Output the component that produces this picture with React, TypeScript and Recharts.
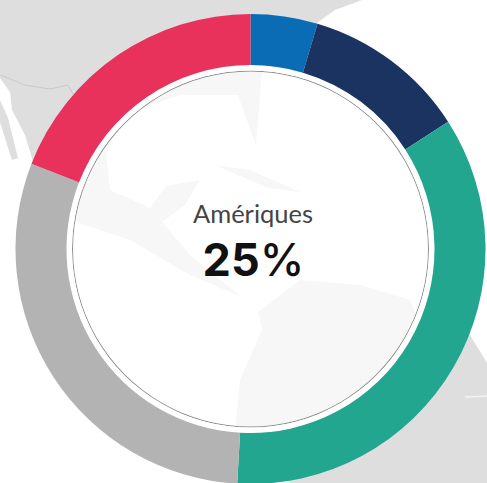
import { PieChart, Pie, Cell } from "recharts";

const regions = ["Bleu", "Marine", "Vert", "Gris", "Rouge"];
const shares = [4.6, 11.3, 35, 30, 19.1];
const colors = ["#0a6cb4", "#1b3361", "#22a68f", "#b3b3b3", "#e8325c"];

const data = regions.map((name, i) => ({ name, value: shares[i] }));
const disc = [{ name: "fond", value: 100 }];

const title = "Amériques";
const percentValue = "25";
const percentSign = "%";

const CX = 250.5;
const CY = 249;
const noMargin = { top: 0, right: 0, bottom: 0, left: 0 };

// fond de carte, purement decoratif
function MapBackground() {
  return (
    <svg
      width={487}
      height={483}
      style={{ position: "absolute", left: 0, top: 0 }}
    >
      <rect width={487} height={483} fill="#ffffff" />
      <g fill="#dedede">
        <path d="M0 0 L362 0 L335 10 L318 22 L290 62 L262 72 L256 145 L244 112 L238 95 L180 95 L130 112 L106 150 L110 190 L150 208 L166 186 L200 180 L185 205 L162 222 L190 255 L240 296 L190 275 L130 240 L75 222 L46 170 L34 165 L25 135 L12 110 L10 92 L0 78 Z" />
        <path d="M0 100 L8 118 L18 158 L12 160 L4 135 L0 122 Z" />
        <path d="M215 165 L250 170 L300 192 L268 188 Z" />
        <path d="M300 280 L360 285 L410 300 L425 335 L470 335 L487 363 L487 483 L290 483 L235 432 L240 380 L262 330 L258 312 Z" />
      </g>
      <path
        d="M0 75 L25 85 L50 89 L68 85 L74 96"
        fill="none"
        stroke="#c9c9c9"
        strokeWidth={1}
      />
      <path
        d="M465 397 L487 396"
        fill="none"
        stroke="#f2f2f2"
        strokeWidth={1.5}
      />
    </svg>
  );
}

export default function App() {
  return (
    <div
      style={{
        position: "absolute",
        left: 0,
        top: 0,
        width: 487,
        height: 483,
        overflow: "hidden",
      }}
    >
      <MapBackground />
      <div style={{ position: "absolute", left: 0, top: 0 }}>
        <PieChart width={487} height={483} margin={noMargin}>
          <Pie
            data={disc}
            dataKey="value"
            cx={CX}
            cy={CY}
            innerRadius={0}
            outerRadius={184}
            fill="#ffffff"
            fillOpacity={0.75}
            stroke="none"
            isAnimationActive={false}
          />
          <Pie
            data={disc}
            dataKey="value"
            cx={CX}
            cy={CY}
            innerRadius={177.5}
            outerRadius={178.5}
            fill="#8c8c8c"
            stroke="none"
            isAnimationActive={false}
          />
          <Pie
            data={disc}
            dataKey="value"
            cx={CX}
            cy={CY}
            innerRadius={178.5}
            outerRadius={184}
            fill="#ffffff"
            stroke="none"
            isAnimationActive={false}
          />
          <Pie
            data={data}
            dataKey="value"
            nameKey="name"
            cx={CX}
            cy={CY}
            innerRadius={184}
            outerRadius={235}
            startAngle={90}
            endAngle={-270}
            paddingAngle={0}
            stroke="none"
            isAnimationActive={false}
          >
            {data.map((d, i) => (
              <Cell key={d.name} fill={colors[i]} />
            ))}
          </Pie>
        </PieChart>
      </div>
      <svg
        width={487}
        height={483}
        style={{ position: "absolute", left: 0, top: 0 }}
      >
        <text
          x={253}
          y={222.5}
          textAnchor="middle"
          fontFamily="Lato"
          fontSize={25.5}
          fill="#444444"
        >
          {title}
        </text>
        <text
          x={253.5}
          y={276}
          textAnchor="middle"
          fontFamily="Inter"
          fontWeight={700}
          fontSize={45}
          fill="#111111"
        >
          {percentValue}
          <tspan fontWeight={500}>{percentSign}</tspan>
        </text>
      </svg>
    </div>
  );
}
